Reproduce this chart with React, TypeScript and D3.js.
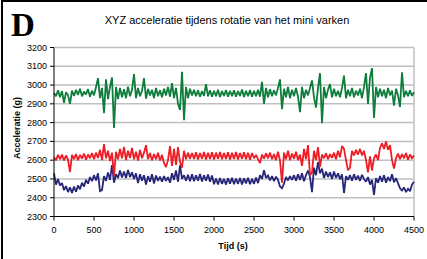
import React from 'react'
import * as d3 from 'd3'

// sampled every 25 s, 0 .. 4500 s
const SAMPLE_STEP = 25

const greenZ = [
  2958, 2940, 2972, 2935, 2968, 2905, 2962, 2945, 2900, 2970,
  2942, 2975, 2948, 2980, 2940, 2965, 2950, 2978, 2938, 2970,
  2945, 2990, 3037, 2930, 2985, 2850, 3030, 2925, 2990, 3040,
  2772, 2990, 2925, 2985, 2935, 2978, 2930, 2992, 2940, 2975,
  3058, 2930, 2985, 2940, 2970, 3037, 2928, 2980, 2945, 2975,
  2930, 2985, 2940, 2972, 2935, 2980, 2945, 2990, 2938, 3010,
  2930, 2985, 2900, 2867, 3070, 2813, 2990, 2930, 2980, 2945,
  2975, 2940, 2972, 2938, 2968, 2942, 3005, 2940, 2972, 2938,
  2970, 2940, 2975, 2936, 2968, 2942, 2974, 2938, 2970, 2940,
  2972, 2938, 2968, 2942, 2976, 2936, 2970, 2940, 2974, 2938,
  2970, 2940, 2975, 2938, 3017, 2900, 2985, 2935, 2978, 2940,
  2972, 2945, 2985, 3030, 2872, 2980, 2935, 2990, 2930, 2975,
  2940, 2985, 2938, 2856, 2990, 2930, 2975, 2945, 2985, 3025,
  2935, 2880, 2985, 3063, 2797, 2990, 2930, 2975, 3005, 2935,
  2980, 2940, 2970, 2935, 2985, 3050, 2930, 2975, 2940, 2985,
  2935, 2970, 2945, 2980, 2930, 2990, 3063, 2900, 3040, 3090,
  2825, 2990, 2935, 2980, 2940, 2975, 2930, 2985, 2945, 2970,
  2890, 2980, 2945, 2883, 3068, 2935, 2970, 2940, 2972, 2942,
  2962,
]

const redY = [
  2615, 2600, 2628, 2605, 2630, 2598, 2625, 2602, 2537, 2628,
  2605, 2632, 2600, 2628, 2608, 2635, 2602, 2630, 2610, 2638,
  2605, 2640, 2612, 2655, 2600, 2685, 2610, 2650, 2595, 2640,
  2515, 2645, 2605, 2660, 2610, 2670, 2600, 2650, 2612, 2665,
  2605, 2645, 2598, 2655, 2610, 2640, 2680, 2605, 2638, 2600,
  2632, 2605, 2640, 2598, 2628, 2585, 2563, 2600, 2675, 2570,
  2660, 2575, 2670, 2590, 2560, 2650, 2605, 2640, 2608, 2638,
  2606, 2642, 2604, 2638, 2608, 2644, 2604, 2640, 2606, 2642,
  2604, 2640, 2608, 2644, 2605, 2638, 2606, 2642, 2603, 2640,
  2606, 2644, 2604, 2638, 2607, 2642, 2605, 2640, 2602, 2638,
  2610, 2628, 2605, 2584, 2630, 2608, 2636, 2610, 2640, 2605,
  2632, 2600, 2645, 2598, 2480, 2640, 2605, 2650, 2600, 2635,
  2608, 2645, 2600, 2630, 2570, 2660, 2605, 2680, 2520, 2535,
  2650, 2600, 2670, 2565, 2630, 2610, 2637, 2605, 2632, 2612,
  2640, 2605, 2650, 2615, 2675, 2660, 2600, 2546, 2560, 2650,
  2625, 2655, 2630, 2660, 2625, 2650, 2600, 2535, 2620, 2545,
  2610, 2630, 2600, 2665, 2690, 2660, 2700, 2655, 2680, 2600,
  2555, 2610, 2635, 2605, 2632, 2610, 2638, 2602, 2630, 2610,
  2625,
]

const blueX = [
  2530, 2470, 2500, 2465, 2478, 2440, 2462, 2430, 2455, 2425,
  2460, 2432, 2465, 2445, 2480, 2460, 2495, 2475, 2510, 2488,
  2520, 2492, 2530, 2435, 2440, 2515, 2490, 2535, 2495, 2573,
  2480, 2525, 2505, 2545, 2508, 2540, 2505, 2548, 2510, 2535,
  2500, 2530, 2478, 2525, 2490, 2520, 2470, 2515, 2485, 2525,
  2475, 2518, 2490, 2512, 2485, 2515, 2490, 2510, 2480, 2530,
  2495, 2545, 2485, 2573, 2500, 2520, 2490, 2522, 2488, 2525,
  2488, 2520, 2490, 2526, 2486, 2520, 2490, 2524, 2485, 2518,
  2472, 2502, 2470, 2505, 2474, 2500, 2470, 2504, 2475, 2506,
  2472, 2502, 2474, 2505, 2470, 2503, 2476, 2506, 2472, 2500,
  2474, 2508, 2478, 2520, 2500, 2547, 2505, 2518, 2492, 2515,
  2488, 2512, 2495, 2460, 2450, 2475, 2510, 2492, 2515, 2495,
  2520, 2490, 2525, 2495, 2530, 2488, 2520, 2545, 2510, 2430,
  2560, 2520, 2590, 2530, 2555, 2505, 2540, 2510, 2535, 2500,
  2540, 2505, 2530, 2498, 2525, 2425, 2515, 2495, 2520, 2490,
  2525, 2495, 2518, 2490, 2522, 2500, 2485, 2510, 2470, 2495,
  2415, 2505, 2480, 2515, 2485, 2520, 2480, 2510, 2488, 2525,
  2482, 2505, 2478, 2450, 2438, 2455, 2430, 2448, 2435, 2470,
  2485,
]

const yTicks = [2300, 2400, 2500, 2600, 2700, 2800, 2900, 3000, 3100, 3200]
const xTicks = [0, 500, 1000, 1500, 2000, 2500, 3000, 3500, 4000, 4500]

const series = [
  { name: 'X', values: blueX, color: '#27277a' },
  { name: 'Y', values: redY, color: '#ee1c25' },
  { name: 'Z', values: greenZ, color: '#0f7d3c' },
]

const W = 427
const H = 259
const font = 'Liberation Sans, Arial, sans-serif'

export default function App() {
  const x = d3.scaleLinear().domain([0, 4500]).range([54, 414])
  const y = d3.scaleLinear().domain([2300, 3200]).range([216.5, 47.5])

  const line = d3.line<number>()
    .x((_, i) => x(i * SAMPLE_STEP))
    .y(d => y(d))

  return (
    <svg width={W} height={H} style={{ position: 'absolute', left: 0, top: 0, background: '#fff' }}>
      {/* figure frame, only top and left visible */}
      <line x1={1} x2={W} y1={1} y2={1} stroke='#000' strokeWidth={2} />
      <line x1={2} x2={2} y1={0} y2={H} stroke='#000' strokeWidth={2} />

      <text x={11} y={36} fontFamily='Liberation Serif, Times New Roman, serif' fontWeight='bold' fontSize={33}>D</text>
      <text x={227} y={24} textAnchor='middle' fontFamily={font} fontSize={11}>
        XYZ acceleratie tijdens rotatie van het mini varken
      </text>

      {yTicks.slice(1).map(t => (
        <line key={t} x1={54} x2={414} y1={y(t)} y2={y(t)} stroke='#c0c0c0' strokeWidth={1.5} />
      ))}
      <line x1={414} x2={414} y1={y(3200)} y2={y(2300)} stroke='#c0c0c0' strokeWidth={1.5} />

      {series.map(s => (
        <path key={s.name} d={line(s.values) ?? ''} fill='none' stroke={s.color} strokeWidth={1.8} strokeLinejoin='miter' strokeMiterlimit={2} />
      ))}

      <line x1={54} x2={54} y1={y(3200)} y2={y(2300)} stroke='#000' strokeWidth={1} />
      <line x1={54} x2={414} y1={y(2300)} y2={y(2300)} stroke='#000' strokeWidth={1} />
      {yTicks.map(t => (
        <g key={t}>
          <line x1={50} x2={54} y1={y(t)} y2={y(t)} stroke='#000' />
          <text x={47} y={y(t) + 3} textAnchor='end' fontFamily={font} fontSize={9}>{t}</text>
        </g>
      ))}
      {xTicks.map(t => (
        <g key={t}>
          <line x1={x(t)} x2={x(t)} y1={y(2300)} y2={y(2300) + 4} stroke='#000' />
          <text x={x(t)} y={233} textAnchor='middle' fontFamily={font} fontSize={9}>{t}</text>
        </g>
      ))}

      <text x={233} y={249} textAnchor='middle' fontFamily={font} fontWeight='bold' fontSize={9}>Tijd (s)</text>
      <text transform='translate(20,128) rotate(-90)' textAnchor='middle' fontFamily={font} fontWeight='bold' fontSize={9}>
        Acceleratie (g)
      </text>
    </svg>
  )
}
